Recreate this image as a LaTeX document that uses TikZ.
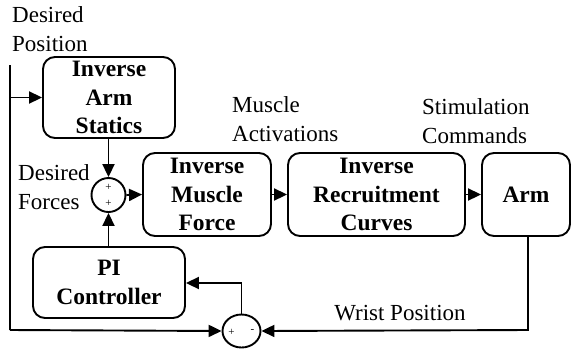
\documentclass[tikz,border=0pt]{standalone}
\usepackage{fontspec}
\setmainfont{Liberation Serif}
\usetikzlibrary{arrows.meta,shapes.geometric}
\begin{document}
\begin{tikzpicture}[x=1pt,y=-1pt,
  blk/.style={draw,line width=1.9pt,rounded corners=12pt,align=center,inner sep=0pt,
    font=\fontsize{23.5}{28.8}\selectfont\bfseries},
  lbl/.style={align=left,inner sep=0pt,anchor=west,font=\fontsize{23}{28.5}\selectfont},
  sumc/.style={draw,line width=1.9pt,ellipse,inner sep=0pt},
  sgn/.style={inner sep=0pt,font=\fontsize{11}{12}\selectfont},
  conn/.style={line width=1.9pt},
  arr/.style={line width=1.9pt,-{Triangle[length=13pt,width=12pt]}}]
\useasboundingbox (0,0) rectangle (572,349);
% blocks
\node[blk,minimum width=132pt,minimum height=81pt] (ias) at (109,97.5) {Inverse\\Arm\\Statics};
\node[blk,minimum width=128pt,minimum height=83pt] (imf) at (207,194.5) {Inverse\\Muscle\\Force};
\node[blk,minimum width=177pt,minimum height=83pt] (irc) at (376.5,194.5) {Inverse\\Recruitment\\Curves};
\node[blk,minimum width=88pt,minimum height=83pt] (arm) at (526,194.5) {Arm};
\node[blk,minimum width=152pt,minimum height=71pt] (pi) at (109,282.5) {PI\\Controller};
% summing junctions
\node[sumc,minimum width=34pt,minimum height=34pt] (s1) at (108.5,195) {};
\node[sgn] at (108.5,187) {+};
\node[sgn] at (108.5,203) {+};
\node[sumc,minimum width=38pt,minimum height=33pt] (s2) at (241.5,331) {};
\node[sgn] at (231.5,332) {+};
\node[sgn] at (252.5,331) {-};
% labels
\node[lbl] (dp) at (12,29) {Desired\\Position};
\node[lbl] (ma) at (232,119) {Muscle\\Activations};
\node[lbl] (sc) at (422,121) {Stimulation\\Commands};
\node[lbl] (df) at (18,187) {Desired\\Forces};
\node[lbl,anchor=center] (wp) at (400,313) {Wrist Position};
% coordinates
\coordinate (ltop) at (10,65);
\coordinate (lbot) at (10,330);
\coordinate (wc) at (528,330);
\coordinate (pc) at (241.5,283);
% connectors
\draw[conn] (ltop) -- (lbot);
\draw[arr] (10,97.5) -- (ias.west);
\draw[arr] (lbot) -- (s2.west);
\draw[arr] (ias.south -| s1) -- (s1.north);
\draw[arr] (s1.east) -- (imf.west);
\draw[arr] (imf.east) -- (irc.west);
\draw[arr] (irc.east) -- (arm.west);
\draw[arr] (arm.south -| wc) -- (wc) -- (s2.east);
\draw[arr] (s2.north) -- (pc) -- (pi.east |- pc);
\draw[arr] (pi.north -| s1) -- (s1.south);
\end{tikzpicture}
\end{document}
